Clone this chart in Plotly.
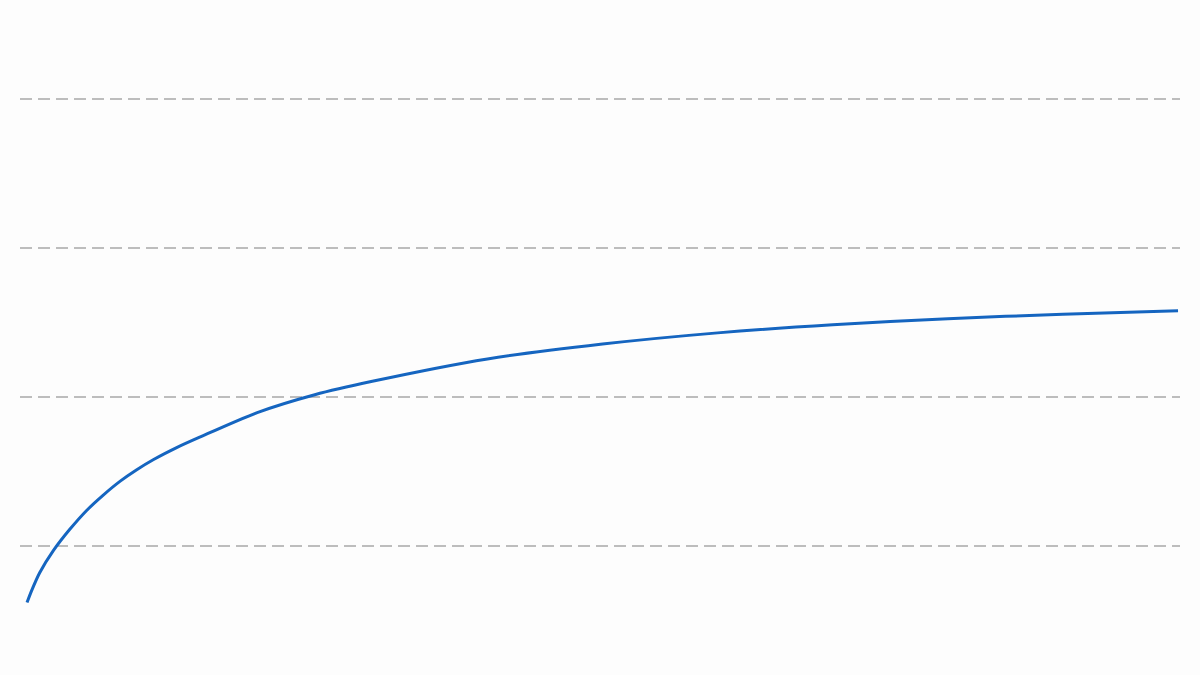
import plotly.graph_objects as go

# Data
x_vals = [0, 0.4, 1.1, 2.3, 3.7, 5.2, 6.6, 8.1, 9.5, 11, 13, 15, 20, 25, 30, 40, 50, 60, 70, 80, 90, 100]
y_vals = [6.2, 7.0, 8.2, 9.7, 11.1, 12.4, 13.4, 14.35, 15.1, 15.8, 16.6, 17.3, 18.95, 20.15, 21.05, 22.55, 23.55, 24.3, 24.85, 25.25, 25.55, 25.78]
grid_ticks = [10, 20, 30, 40]

fig = go.Figure()
fig.add_trace(go.Scatter(
    x=x_vals, y=y_vals, mode="lines",
    line=dict(color="#1565c0", width=3, shape="spline", smoothing=0.8),
    hoverinfo="skip", showlegend=False,
))

fig.update_layout(
    width=1200, height=675,
    margin=dict(l=20, r=20, t=0, b=0),
    paper_bgcolor="#fdfdfd", plot_bgcolor="#fdfdfd",
    xaxis=dict(range=[-0.61, 100.17], showgrid=False, zeroline=False,
               showticklabels=False, ticks="", showline=False),
    yaxis=dict(range=[1.34, 46.64], tickvals=grid_ticks, showgrid=True,
               gridcolor="#bdbdbd", gridwidth=1.5, griddash="12px,6px",
               zeroline=False, showticklabels=False, ticks="", showline=False),
)

fig.write_html(
    "out.html",
    config={"displayModeBar": False},
    post_script="document.body.style.margin='0';document.body.style.padding='0';document.body.style.background='#fdfdfd';",
)
